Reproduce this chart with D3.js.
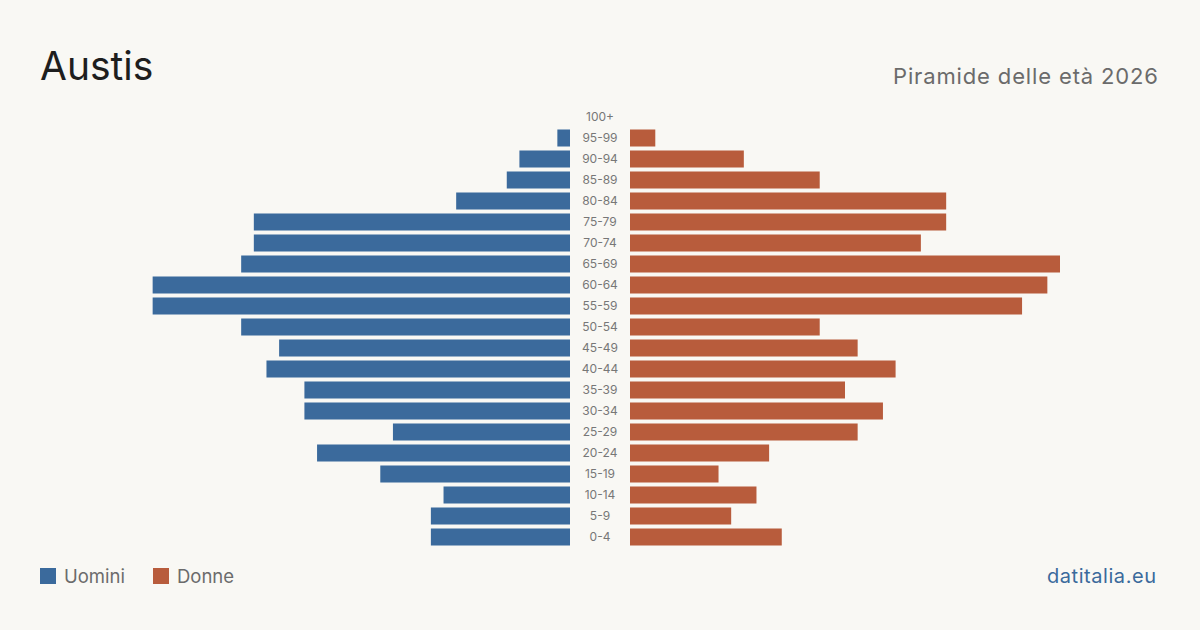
<!DOCTYPE html>
<html><head><meta charset="utf-8">
<script src="https://cdn.jsdelivr.net/npm/d3@7"></script>
<style>
html,body{margin:0;padding:0;background:#f9f8f4;}
svg{display:block;font-family:Inter,"Open Sans",sans-serif;}
</style></head>
<body><svg id="c" width="1200" height="630"></svg>
<script>
const ageGroups = ["100+","95-99","90-94","85-89","80-84","75-79","70-74","65-69","60-64","55-59","50-54","45-49","40-44","35-39","30-34","25-29","20-24","15-19","10-14","5-9","0-4"];
const men   = [0,1,4,5,9,25,25,26,33,33,26,23,24,21,21,14,20,15,10,11,11];
const women = [0,2,9,15,25,25,23,34,33,31,15,18,21,17,20,18,11,7,10,8,12];
const title = "Austis";
const subtitle = "Piramide delle età 2026";
const legendLabels = ["Uomini","Donne"];
const colors = ["#3b6a9c","#b85c3c"];

const svg = d3.select("#c");
svg.append("rect").attr("width",1200).attr("height",630).attr("fill","#f9f8f4");

svg.append("text").attr("x",40).attr("y",80).attr("font-size",39).attr("fill","#1e1e1e").text(title);
svg.append("text").attr("x",1158).attr("y",84).attr("text-anchor","end").attr("font-size",22).attr("fill","#6b6b6b")
  .attr("textLength",265).attr("lengthAdjust","spacing").text(subtitle);

const maxV = d3.max([...men,...women]);
const xL = d3.scaleLinear().domain([0,maxV]).range([570,140]);
const xR = d3.scaleLinear().domain([0,maxV]).range([630,1060]);
const y = d3.scaleBand().domain(ageGroups).range([106.5,547.5]).paddingInner(0.19).paddingOuter(0.095);

svg.append("g").selectAll("rect").data(ageGroups).join("rect")
  .attr("x",(d,i)=>xL(men[i])).attr("y",d=>y(d)).attr("width",(d,i)=>xL(0)-xL(men[i])).attr("height",y.bandwidth()).attr("fill",colors[0]);
svg.append("g").selectAll("rect").data(ageGroups).join("rect")
  .attr("x",xR(0)).attr("y",d=>y(d)).attr("width",(d,i)=>xR(women[i])-xR(0)).attr("height",y.bandwidth()).attr("fill",colors[1]);

svg.append("g").selectAll("text").data(ageGroups).join("text")
  .attr("x",600).attr("y",d=>y(d)+y.bandwidth()/2).attr("dy","0.35em").attr("text-anchor","middle")
  .attr("font-size",12).attr("fill","#777").text(d=>d);

const lg = svg.append("g");
[[40,64],[153,177]].forEach((p,i)=>{
  lg.append("rect").attr("x",p[0]).attr("y",568).attr("width",16).attr("height",16).attr("fill",colors[i]);
  lg.append("text").attr("x",p[1]).attr("y",583).attr("font-size",18.5).attr("fill","#6b6b6b").text(legendLabels[i]);
});
svg.append("text").attr("x",1156).attr("y",583).attr("text-anchor","end").attr("font-size",20).attr("fill","#3b6a9c")
  .attr("textLength",109).attr("lengthAdjust","spacing").text("datitalia.eu");
</script></body></html>
